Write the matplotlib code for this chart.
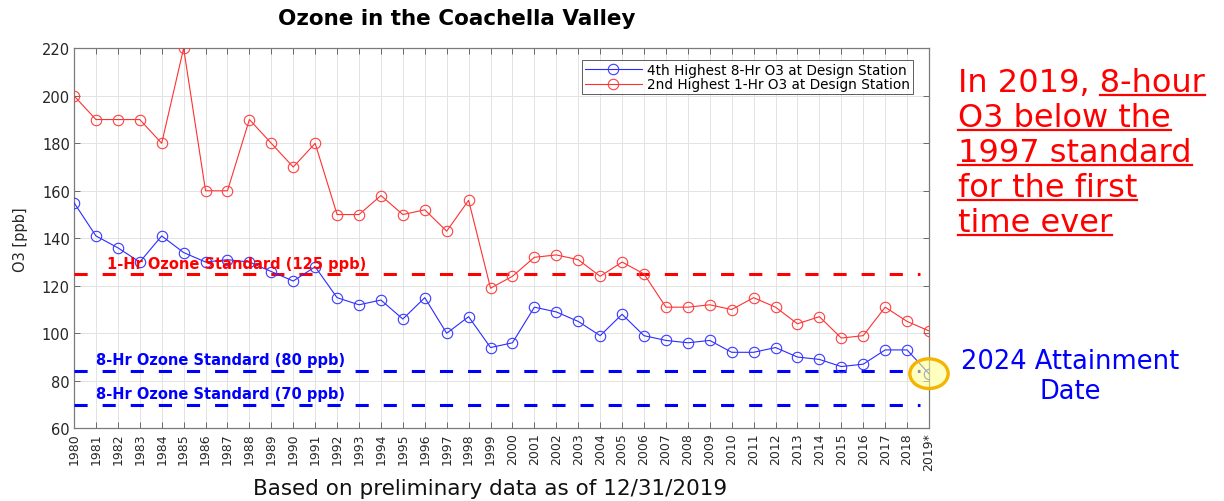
import matplotlib
matplotlib.use("Agg")
import matplotlib.pyplot as plt
from matplotlib.patches import Ellipse
from matplotlib.lines import Line2D

plt.rcParams['font.family'] = ['DejaVu Sans']

# ---- data ----
years = list(range(1980, 2020))
year_labels = [str(y) for y in range(1980, 2019)] + ['2019*']
o3_8hr_4th = [155, 141, 136, 130, 141, 134, 130, 131, 130, 126,
              122, 128, 115, 112, 114, 106, 115, 100, 107, 94,
              96, 111, 109, 105, 99, 108, 99, 97, 96, 97,
              92, 92, 94, 90, 89, 86, 87, 93, 93, 83]
o3_1hr_2nd = [200, 190, 190, 190, 180, 220, 160, 160, 190, 180,
              170, 180, 150, 150, 158, 150, 152, 143, 156, 119,
              124, 132, 133, 131, 124, 130, 125, 111, 111, 112,
              110, 115, 111, 104, 107, 98, 99, 111, 105, 101]
std_values = [125, 84, 70]
std_labels = ['1-Hr Ozone Standard (125 ppb)',
              '8-Hr Ozone Standard (80 ppb)',
              '8-Hr Ozone Standard (70 ppb)']
std_colors = ['#ff0000', '#0000ff', '#0000ff']
series_labels = ['4th Highest 8-Hr O3 at Design Station',
                 '2nd Highest 1-Hr O3 at Design Station']

W, H = 1224, 502
fig = plt.figure(figsize=(W / 100, H / 100), dpi=100)
ax = fig.add_axes([74 / W, 1 - 429.3 / H, (929 - 74) / W, (429.3 - 49.3) / H])

ax.plot(years, o3_8hr_4th, color='#2b2bff', lw=0.8, marker='o', ms=7.5,
        mfc='none', mec='#3a3aff', mew=0.8, label=series_labels[0], zorder=4)
ax.plot(years, o3_1hr_2nd, color='#ff3030', lw=0.8, marker='o', ms=7.5,
        mfc='none', mec='#ff4040', mew=0.8, label=series_labels[1], zorder=4)

for v, lab, c in zip(std_values, std_labels, std_colors):
    ax.hlines(v, years[0], 2018.6, colors=c, linestyles=(0, (4.3, 4.9)),
              lw=2.2, zorder=3)

ax.text(1981.5, 129.6, std_labels[0], color='#ff0000', fontsize=10.5,
        fontweight='bold', va='center', ha='left', zorder=5)
ax.text(1981.0, 88.8, std_labels[1], color='#0000ff', fontsize=10.5,
        fontweight='bold', va='center', ha='left', zorder=5)
ax.text(1981.0, 74.7, std_labels[2], color='#0000ff', fontsize=10.5,
        fontweight='bold', va='center', ha='left', zorder=5)

ax.set_xlim(years[0], years[-1])
ax.set_ylim(60, 220)
ax.set_xticks(years)
ax.set_xticklabels(year_labels, rotation=90, fontsize=9, color='#262626')
ax.set_yticks(range(60, 221, 20))
ax.tick_params(axis='y', labelsize=10.5, labelcolor='#262626')
ax.tick_params(direction='in', top=True, right=True, length=4, width=0.6,
               color='#555555', pad=3)
ax.grid(True, color='#e3e3e3', lw=0.7)
ax.set_axisbelow(True)
for s in ax.spines.values():
    s.set_color('#7a7a7a')
    s.set_linewidth(0.9)
ax.set_ylabel('O3 [ppb]', fontsize=10.5, color='#262626', labelpad=10)

leg = ax.legend(loc='upper right', bbox_to_anchor=(913 / W, 1 - 61 / H),
                bbox_transform=fig.transFigure, fontsize=9.8, frameon=True,
                fancybox=False, edgecolor='#333333', handlelength=4.2,
                borderpad=0.2, labelspacing=0.05, handletextpad=0.4,
                borderaxespad=0)
leg.get_frame().set_linewidth(0.7)

# highlight circle at 2019 point
ell = Ellipse((years[-1], o3_8hr_4th[-1]), width=1.75, height=12.5,
              facecolor=(1, 1, 0.55, 0.55), edgecolor='#f4b400', lw=2.4,
              clip_on=False, zorder=6)
ax.add_patch(ell)

fig.text(457 / W, 1 - 19 / H, 'Ozone in the Coachella Valley',
         fontsize=15.5, fontweight='bold',
         ha='center', va='center')
fig.text(490 / W, 1 - 489 / H, 'Based on preliminary data as of 12/31/2019',
         fontsize=15.5, ha='center', va='center', color='#111111')

fig.text(1070 / W, 1 - 362 / H, '2024 Attainment', fontsize=18.5,
         color='#0000ff', ha='center', va='center')
fig.text(1070 / W, 1 - 392 / H, 'Date', fontsize=18.5,
         color='#0000ff', ha='center', va='center')

# red note with underlines
red_lines = ['In 2019, 8-hour', 'O3 below the', '1997 standard',
             'for the first', 'time ever']
x0 = 958 / W
baselines = [92, 127, 162, 197, 232]
texts = []
for line, b in zip(red_lines, baselines):
    t = fig.text(x0, 1 - b / H, line, fontsize=23, color='#ff0000',
                 ha='left', va='baseline')
    texts.append(t)

fig.canvas.draw()
r = fig.canvas.get_renderer()
for i, (t, b) in enumerate(zip(texts, baselines)):
    bb = t.get_window_extent(renderer=r)
    x_end = bb.x1
    if i == 0:
        tmp = fig.text(0, 0, '8-hour', fontsize=23)
        wb = tmp.get_window_extent(renderer=r).width
        tmp.remove()
        x_start = x_end - wb
    else:
        x_start = bb.x0
    yline = H - (b + 4)
    fig.add_artist(Line2D([x_start / W, x_end / W], [yline / H, yline / H],
                          transform=fig.transFigure, color='#ff0000', lw=1.6))

fig.savefig('out.png', dpi=100)
